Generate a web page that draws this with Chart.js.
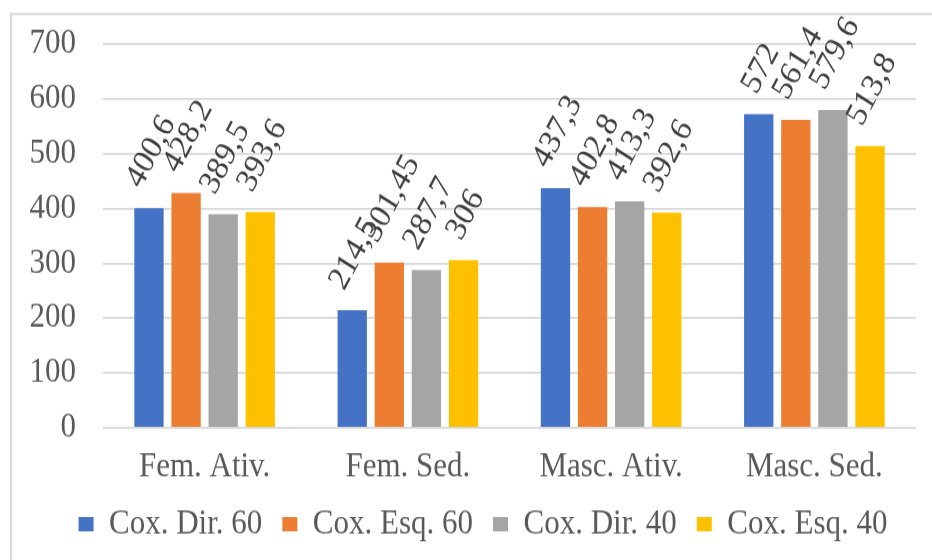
<!DOCTYPE html>
<html lang="pt">
<head>
    <meta charset="UTF-8">
    <title>Cox. Dir. / Esq.</title>
    <style>
        html, body { margin: 0; padding: 0; background: #ffffff; }
        #outer { width: 932px; height: 560px; overflow: hidden; position: relative; }
        /* o gráfico original está ligeiramente esticado na vertical */
        #wrap { position: absolute; left: 0; top: 0; width: 932px; height: 509px; transform: scaleY(1.1); transform-origin: 0 0; }
        canvas { display: block; }
    </style>
</head>
<body>
    <div id="outer">
        <div id="wrap">
            <canvas id="myChart" width="932" height="509"></canvas>
        </div>
    </div>

    <script src="https://cdn.jsdelivr.net/npm/chart.js"></script>
    <script>
        // categorias e séries
        const categories = ['Fem. Ativ.', 'Fem. Sed.', 'Masc. Ativ.', 'Masc. Sed.'];
        const seriesNames = ['Cox. Dir. 60', 'Cox. Esq. 60', 'Cox. Dir. 40', 'Cox. Esq. 40'];
        const coxDir60 = [400.6, 214.5, 437.3, 572];
        const coxEsq60 = [428.2, 301.45, 402.8, 561.4];
        const coxDir40 = [389.5, 287.7, 413.3, 579.6];
        const coxEsq40 = [393.6, 306, 392.6, 513.8];
        const yTicks = [0, 100, 200, 300, 400, 500, 600, 700];

        const colors = ['#4472C4', '#ED7D31', '#A5A5A5', '#FFC000'];
        const FONT = '"Liberation Serif", "Times New Roman", serif';

        const seriesValues = [coxDir60, coxEsq60, coxDir40, coxEsq40];

        // rótulos de dados rodados a -60 graus, como no Excel
        const rotatedLabels = {
            id: 'rotatedLabels',
            afterDatasetsDraw(chart) {
                const ctx = chart.ctx;
                const size = 31;
                const ang = -60 * Math.PI / 180;
                ctx.save();
                ctx.font = size + 'px ' + FONT;
                ctx.fillStyle = '#404040';
                ctx.textAlign = 'center';
                ctx.textBaseline = 'alphabetic';
                chart.data.datasets.forEach((ds, di) => {
                    const meta = chart.getDatasetMeta(di);
                    meta.data.forEach((bar, i) => {
                        const txt = String(ds.data[i]).replace('.', ',');
                        const w = ctx.measureText(txt).width;
                        const h = size * 0.68;
                        const boxH = w * Math.sin(Math.PI / 3) + h * Math.cos(Math.PI / 3);
                        const cx = bar.x;
                        const cy = bar.y - 17 - boxH / 2;
                        ctx.save();
                        ctx.translate(cx, cy);
                        ctx.rotate(ang);
                        ctx.fillText(txt, 0, h / 2);
                        ctx.restore();
                    });
                });
                ctx.restore();
            }
        };

        // moldura cinzenta do gráfico + ajuste da legenda
        const frame = {
            id: 'frame',
            afterLayout(chart) {
                chart.legend.left += 25;
                chart.legend.right += 25;
            },
            beforeDraw(chart) {
                const ctx = chart.ctx;
                ctx.save();
                ctx.fillStyle = '#ffffff';
                ctx.fillRect(0, 0, chart.width, chart.height);
                ctx.strokeStyle = '#d9d9d9';
                ctx.lineWidth = 2;
                ctx.strokeRect(11, 12.7, chart.width + 10, chart.height + 10);
                ctx.restore();
            }
        };

        const ctx = document.getElementById('myChart').getContext('2d');
        new Chart(ctx, {
            type: 'bar',
            data: {
                labels: categories,
                datasets: seriesNames.map((name, k) => ({
                    label: name,
                    data: seriesValues[k],
                    backgroundColor: colors[k],
                    borderWidth: 0,
                    categoryPercentage: 0.73,
                    barPercentage: 0.79
                }))
            },
            options: {
                responsive: false,
                animation: false,
                devicePixelRatio: 1,
                layout: { padding: { top: 40, right: 16, bottom: 7, left: 0 } },
                plugins: {
                    tooltip: { enabled: false },
                    legend: {
                        position: 'bottom',
                        labels: {
                            color: '#595959',
                            font: { family: FONT, size: 31 },
                            boxWidth: 15,
                            boxHeight: 13,
                            padding: 20
                        }
                    }
                },
                scales: {
                    x: {
                        grid: { display: false, drawTicks: false },
                        border: { display: false },
                        ticks: {
                            color: '#595959',
                            font: { family: FONT, size: 31 },
                            padding: 17,
                            maxRotation: 0
                        },
                        afterFit(scale) { scale.height = 52; }
                    },
                    y: {
                        min: 0,
                        max: 700,
                        afterBuildTicks(scale) {
                            scale.ticks = yTicks.map(v => ({ value: v }));
                        },
                        grid: { color: '#d9d9d9', lineWidth: 1.8, drawTicks: false },
                        border: { display: false },
                        ticks: {
                            color: '#595959',
                            font: { family: FONT, size: 31 },
                            padding: 27
                        },
                        afterFit(scale) {
                            scale.width = 103;
                            // o padding dos ticks não deve empurrar a área do gráfico
                            scale.paddingTop = 0;
                            scale.paddingBottom = 0;
                        }
                    }
                }
            },
            plugins: [frame, rotatedLabels]
        });
    </script>
</body>
</html>
